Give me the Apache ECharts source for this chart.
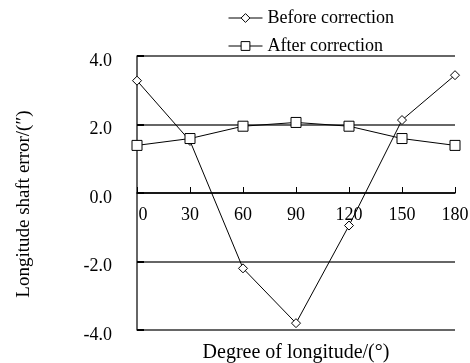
<!DOCTYPE html>
<html><head><meta charset="utf-8">
<script src="https://cdn.jsdelivr.net/npm/echarts@6/dist/echarts.min.js"></script>
<style>html,body{margin:0;padding:0;background:#fff}#c{width:470px;height:363px}</style>
</head><body><div id="c"></div>
<script>
var degrees = [0, 30, 60, 90, 120, 150, 180];
var beforeCorrection = [3.28, 1.52, -2.2, -3.8, -0.95, 2.13, 3.44];
var afterCorrection = [1.39, 1.59, 1.95, 2.06, 1.95, 1.59, 1.39];
var yTicks = [-4, -2, 0, 2, 4];

var font = 'Liberation Serif, Times New Roman, serif';
var chart = echarts.init(document.getElementById('c'), null, {renderer: 'canvas'});
function pairs(xs, ys) { return xs.map(function (x, i) { return [x, ys[i]]; }); }
chart.setOption({
  animation: false,
  backgroundColor: '#fff',
  textStyle: {fontFamily: font, color: '#000'},
  legend: {
    orient: 'vertical', left: 223, top: 4, itemWidth: 34, itemHeight: 11, itemGap: 10,
    textStyle: {fontFamily: font, fontSize: 18, color: '#000'},
    lineStyle: {width: 1},
    itemStyle: {borderWidth: 1},
    data: ['Before correction', 'After correction']
  },
  grid: {left: 137, right: 15, top: 56, bottom: 33, outerBoundsMode: 'none', containLabel: false},
  xAxis: {
    type: 'value', min: 0, max: 180, interval: 30, position: 'bottom', offset: -137,
    name: 'Degree of longitude/(°)', nameLocation: 'middle', nameGap: 150,
    nameTextStyle: {fontFamily: font, fontSize: 20, color: '#000'},
    axisLine: {onZero: false, lineStyle: {color: '#000', width: 1.5}},
    axisTick: {inside: true, length: 6, lineStyle: {color: '#000'}},
    axisLabel: {
      fontFamily: font, fontSize: 18, color: '#000', margin: 13, hideOverlap: false,
      formatter: function (v) { return v === 0 ? '{a|0}' : String(v); },
      rich: {a: {fontFamily: font, fontSize: 18, color: '#000', padding: [0, 0, 0, 12]}}
    },
    splitLine: {show: false}
  },
  yAxis: {
    type: 'value', min: -4, max: 4, interval: 2,
    name: 'Longitude shaft error/(″)', nameLocation: 'middle', nameGap: 103,
    nameTextStyle: {fontFamily: font, fontSize: 19, color: '#000', padding: [0, 22, 0, 0]},
    axisLine: {show: true, lineStyle: {color: '#333', width: 1.5}},
    axisTick: {show: true, inside: true, length: 7, lineStyle: {color: '#000', width: 2}},
    axisLabel: {fontFamily: font, fontSize: 18, color: '#000', margin: 25,
      verticalAlign: 'top', lineHeight: 10,
      formatter: function (v) { return v.toFixed(1); }},
    splitLine: {show: true, lineStyle: {color: '#333', width: 1.5}}
  },
  series: [
    {name: 'Before correction', type: 'line', data: pairs(degrees, beforeCorrection),
     symbol: 'diamond', symbolSize: [9, 9], showAllSymbol: true,
     lineStyle: {color: '#000', width: 1}, itemStyle: {color: '#fff', borderColor: '#000', borderWidth: 1}},
    {name: 'After correction', type: 'line', data: pairs(degrees, afterCorrection),
     symbol: 'rect', symbolSize: 10, showAllSymbol: true,
     lineStyle: {color: '#000', width: 1}, itemStyle: {color: '#fff', borderColor: '#000', borderWidth: 1}}
  ]
});
</script></body></html>
